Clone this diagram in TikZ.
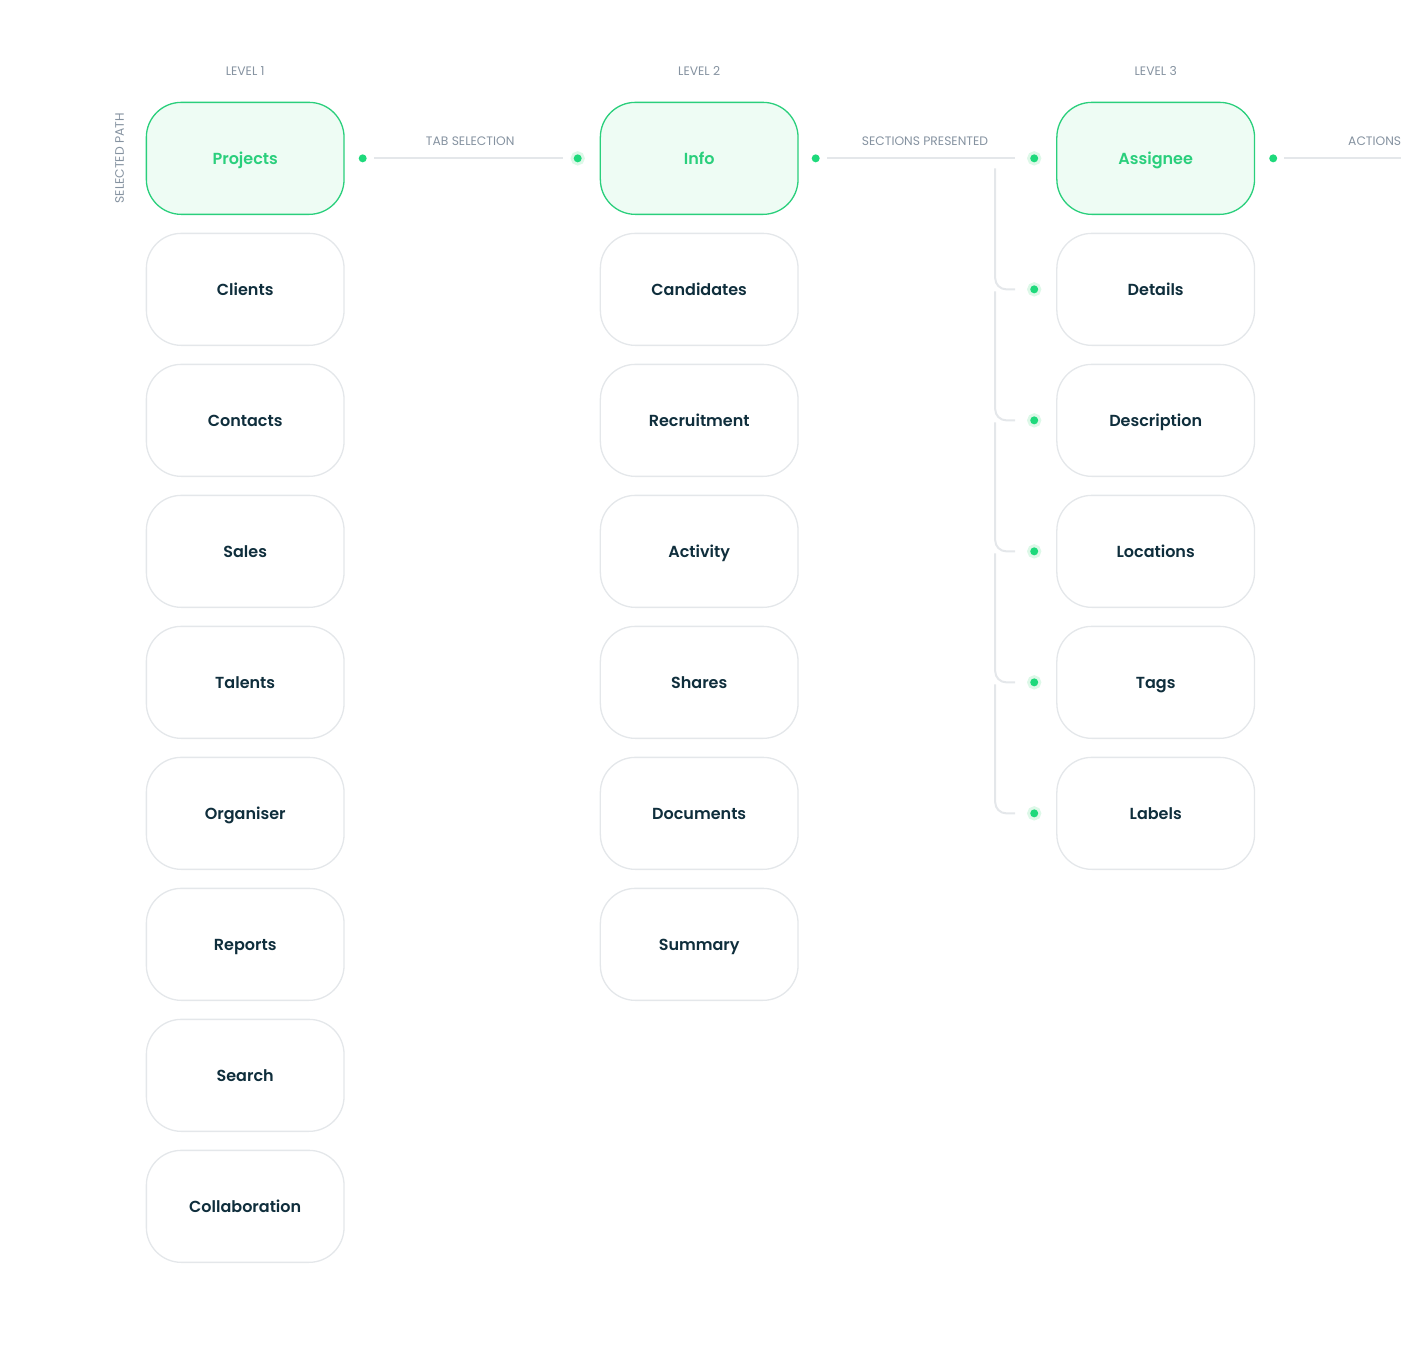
\documentclass[tikz,border=0pt]{standalone}
\usepackage{fontspec}
\setmainfont{Poppins}[BoldFont={Poppins SemiBold}]
\usetikzlibrary{positioning}
\definecolor{selgreen}{HTML}{2ACF7C}
\definecolor{dotgreen}{HTML}{1ED97B}
\definecolor{halo}{HTML}{DDF8E8}
\definecolor{selfill}{HTML}{EEFCF4}
\definecolor{boxgray}{HTML}{E4E7EA}
\definecolor{ink}{HTML}{0F2E3C}
\definecolor{capgray}{HTML}{8592A0}

\begin{document}
\begin{tikzpicture}[
   x=1pt,y=1pt,
   every matrix/.style={ampersand replacement=\&,column sep=255pt,row sep=17.7pt,inner sep=0pt},
   box/.style={draw=boxgray,line width=1.3pt,rounded corners=35pt,fill=white,text=ink,
      font=\fontsize{16}{19}\selectfont\bfseries,
      minimum width=197.7pt,minimum height=112pt,inner sep=0pt,text height=12pt,text depth=0pt},
   sel/.style={box,draw=selgreen,fill=selfill,text=selgreen},
   lbl/.style={font=\fontsize{12.3}{14}\selectfont,text=capgray,inner sep=0pt},
   dot/.style={circle,fill=dotgreen,minimum size=8pt,inner sep=0pt},
   hdot/.style={dot,preaction={draw=halo,line width=6pt}},
   link/.style={draw=boxgray,line width=2pt,shorten <=7pt,shorten >=11pt},
   brace/.style={draw=boxgray,line width=2pt,rounded corners=11pt,shorten >=15pt}]
\useasboundingbox (0,0) rectangle (1401,-1356);
\matrix (M) [matrix anchor=north west] at (145.5,-101.5) {
\node[sel] (proj) {Projects}; \& \node[sel] (info) {Info}; \&[2.5pt] \node[sel] (asg) {Assignee}; \\
\node[box] (cli) {Clients}; \& \node[box] (cand) {Candidates}; \& \node[box] (det) {Details}; \\
\node[box] (cont) {Contacts}; \& \node[box] (recr) {Recruitment}; \& \node[box] (desc) {Description}; \\
\node[box] (sales) {Sales}; \& \node[box] (act) {Activity}; \& \node[box] (loc) {Locations}; \\
\node[box] (tal) {Talents}; \& \node[box] (shr) {Shares}; \& \node[box] (tags) {Tags}; \\
\node[box] (org) {Organiser}; \& \node[box] (docs) {Documents}; \& \node[box] (lab) {Labels}; \\
\node[box] (rep) {Reports}; \& \node[box] (summ) {Summary}; \& \\
\node[box] (srch) {Search}; \& \& \\
\node[box] (coll) {Collaboration}; \& \& \\
};
% level captions
\node[lbl,anchor=base] (lv1) at ([yshift=26pt]proj.north) {LEVEL 1};
\node[lbl,anchor=base] (lv2) at ([yshift=26pt]info.north) {LEVEL 2};
\node[lbl,anchor=base] (lv3) at ([yshift=26pt]asg.north) {LEVEL 3};
\node[lbl,rotate=90] (selp) at ([xshift=-26pt]proj.west) {SELECTED PATH};
% dots
\node[dot] (pOut) at ([xshift=18pt]proj.east) {};
\node[hdot] (iIn) at ([xshift=-22pt]info.west) {};
\node[dot] (iOut) at ([xshift=17pt]info.east) {};
\node[hdot] (aIn) at ([xshift=-22pt]asg.west) {};
\node[dot] (aOut) at ([xshift=18pt]asg.east) {};
\node[hdot] (dDet) at ([xshift=-22pt]det.west) {};
\node[hdot] (dDesc) at ([xshift=-22pt]desc.west) {};
\node[hdot] (dLoc) at ([xshift=-22pt]loc.west) {};
\node[hdot] (dTags) at ([xshift=-22pt]tags.west) {};
\node[hdot] (dLab) at ([xshift=-22pt]lab.west) {};
\coordinate (actEnd) at ([xshift=129pt]aOut.center);
\coordinate (brTop) at ([xshift=-39pt,yshift=-10pt]aIn.center);
% connectors
\draw[link] (pOut) -- node[lbl,above=12pt] {TAB SELECTION} (iIn);
\draw[link,shorten >=15pt] (iOut) -- node[lbl,above=12pt] {SECTIONS PRESENTED} (aIn);
\draw[link,shorten >=0pt] (aOut) -- (actEnd) node[lbl,anchor=south east,yshift=12pt] {ACTIONS};
\draw[brace] (brTop) |- (dDet);
\draw[brace] ([xshift=-39pt,yshift=-2pt]dDet.center) |- (dDesc);
\draw[brace] ([xshift=-39pt,yshift=-2pt]dDesc.center) |- (dLoc);
\draw[brace] ([xshift=-39pt,yshift=-2pt]dLoc.center) |- (dTags);
\draw[brace] ([xshift=-39pt,yshift=-2pt]dTags.center) |- (dLab);
\end{tikzpicture}
\end{document}
